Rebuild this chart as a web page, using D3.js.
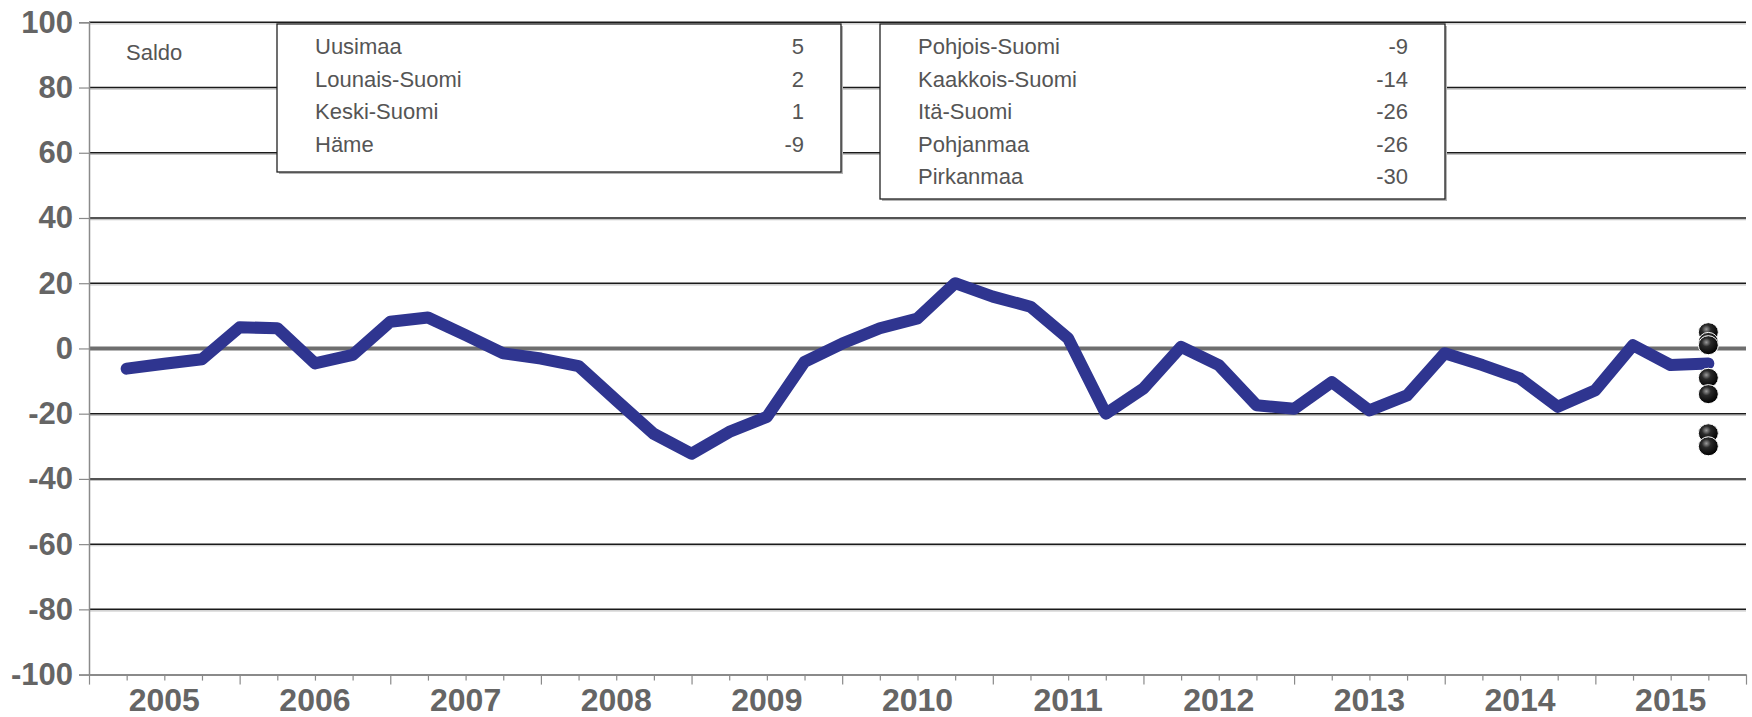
<!DOCTYPE html>
<html>
<head>
<meta charset="utf-8">
<script src="https://cdn.jsdelivr.net/npm/d3@7/dist/d3.min.js"></script>
<style>
  html, body { margin: 0; padding: 0; background: #fff; }
  svg { display: block; font-family: "Liberation Sans", Arial, sans-serif; }
</style>
</head>
<body>
<svg id="chart" width="1752" height="717"></svg>
<script>
// ---- data ----
const years = [2005, 2006, 2007, 2008, 2009, 2010, 2011, 2012, 2013, 2014, 2015];
const quarters = [
  "2005Q1","2005Q2","2005Q3","2005Q4",
  "2006Q1","2006Q2","2006Q3","2006Q4",
  "2007Q1","2007Q2","2007Q3","2007Q4",
  "2008Q1","2008Q2","2008Q3","2008Q4",
  "2009Q1","2009Q2","2009Q3","2009Q4",
  "2010Q1","2010Q2","2010Q3","2010Q4",
  "2011Q1","2011Q2","2011Q3","2011Q4",
  "2012Q1","2012Q2","2012Q3","2012Q4",
  "2013Q1","2013Q2","2013Q3","2013Q4",
  "2014Q1","2014Q2","2014Q3","2014Q4",
  "2015Q1","2015Q2","2015Q3"
];
const saldo = [
  -6.2, -4.7, -3.3, 6.5,
  6.2, -4.6, -2.0, 8.2,
  9.5, 4.1, -1.5, -3.1,
  -5.4, -15.9, -26.2, -32.3,
  -25.6, -21.0, -4.1, 1.5,
  6.2, 9.2, 20.0, 15.9,
  12.8, 3.1, -20.0, -12.3,
  0.5, -5.1, -17.4, -18.5,
  -10.3, -19.0, -14.4, -1.5,
  -5.1, -9.2, -17.9, -12.8,
  1.0, -5.1, -4.6
];
const regionsLeft = ["Uusimaa", "Lounais-Suomi", "Keski-Suomi", "Häme"];
const valuesLeft = [5, 2, 1, -9];
const regionsRight = ["Pohjois-Suomi", "Kaakkois-Suomi", "Itä-Suomi", "Pohjanmaa", "Pirkanmaa"];
const valuesRight = [-9, -14, -26, -26, -30];
const yTicks = [-100, -80, -60, -40, -20, 0, 20, 40, 60, 80, 100];
const unitLabel = "Saldo";

// ---- layout ----
const svg = d3.select("#chart");
const plotLeft = 89, plotRight = 1746, plotTop = 22.3, plotBottom = 674.6;

const x = d3.scaleLinear().domain([2005, 2016]).range([plotLeft, plotRight]);
const y = d3.scaleLinear().domain([-100, 100]).range([plotBottom, plotTop]);

// quarter position: year + q/4 (point sits at the end of its quarter tick)
const qPos = q => {
  const yr = +q.slice(0, 4), n = +q.slice(5);
  return yr + n / 4;
};

const yLabelFont = "bold 31px 'Liberation Sans', Arial, sans-serif";
const xLabelFont = "bold 32px 'Liberation Sans', Arial, sans-serif";
const axisGray = "#656565";

// ---- gridlines ----
const grid = svg.append("g");
yTicks.filter(v => v !== 0 && v !== -100).forEach(v => {
  grid.append("line")
    .attr("x1", plotLeft).attr("x2", plotRight)
    .attr("y1", y(v) + 1.6).attr("y2", y(v) + 1.6)
    .attr("stroke", "#c4c4c4").attr("stroke-width", 1.2);
  grid.append("line")
    .attr("x1", plotLeft).attr("x2", plotRight)
    .attr("y1", y(v)).attr("y2", y(v))
    .attr("stroke", "#1a1a1a").attr("stroke-width", 1.5);
});
// zero line
grid.append("line")
  .attr("x1", plotLeft).attr("x2", plotRight)
  .attr("y1", y(0)).attr("y2", y(0))
  .attr("stroke", "#6e6e6e").attr("stroke-width", 4);

// ---- y axis ----
const yAxis = svg.append("g")
  .attr("transform", `translate(${plotLeft},0)`)
  .call(d3.axisLeft(y).tickValues(yTicks).tickSize(10).tickPadding(6).tickFormat(d3.format("d")));
yAxis.select(".domain").attr("stroke", "#8a8a8a").attr("stroke-width", 1.5);
yAxis.selectAll(".tick line").attr("stroke", "#8a8a8a").attr("stroke-width", 1.2);
yAxis.selectAll(".tick text")
  .style("font", yLabelFont).attr("fill", axisGray)
  .text(d => d < 0 ? "-" + Math.abs(d) : d);

// ---- x axis ----
const quarterTicks = d3.range(2005, 2016, 0.25).filter(t => t % 1 !== 0);
const xAxisMinor = svg.append("g")
  .attr("transform", `translate(0,${plotBottom})`)
  .call(d3.axisBottom(x).tickValues(quarterTicks).tickSize(6).tickFormat(""));
xAxisMinor.select(".domain").remove();
xAxisMinor.selectAll(".tick line").attr("stroke", "#8a8a8a").attr("stroke-width", 1.2);

const xAxisMajor = svg.append("g")
  .attr("transform", `translate(0,${plotBottom})`)
  .call(d3.axisBottom(x).tickValues(years.concat([2016])).tickSize(10).tickSizeOuter(0).tickFormat(""));
xAxisMajor.select(".domain").attr("stroke", "#8a8a8a").attr("stroke-width", 2);
xAxisMajor.selectAll(".tick line").attr("stroke", "#8a8a8a").attr("stroke-width", 1.2);

svg.append("g").selectAll("text")
  .data(years).join("text")
  .attr("x", d => x(d + 0.5))
  .attr("y", plotBottom + 36.5)
  .attr("text-anchor", "middle")
  .style("font", xLabelFont)
  .attr("fill", axisGray)
  .text(d => d);

// ---- legend boxes ----
function legendBox(x0, y0, w, h, names, vals, valRight) {
  const g = svg.append("g");
  g.append("rect").attr("x", x0 + 2).attr("y", y0 + 2).attr("width", w).attr("height", h)
    .attr("fill", "#b5b5b5");
  g.append("rect").attr("x", x0).attr("y", y0).attr("width", w).attr("height", h)
    .attr("fill", "#fff").attr("stroke", "#222").attr("stroke-width", 1.3);
  names.forEach((n, i) => {
    g.append("text").attr("x", x0 + 38).attr("y", y0 + 30 + i * 32.5)
      .style("font", "22px 'Liberation Sans', Arial, sans-serif").attr("fill", "#555")
      .text(n);
    g.append("text").attr("x", valRight).attr("y", y0 + 30 + i * 32.5)
      .attr("text-anchor", "end")
      .style("font", "22px 'Liberation Sans', Arial, sans-serif").attr("fill", "#555")
      .text(vals[i]);
  });
}
legendBox(277, 24, 564, 148, regionsLeft, valuesLeft, 804);
legendBox(880, 24, 565, 175, regionsRight, valuesRight, 1408);

svg.append("text").attr("x", 126).attr("y", 60)
  .style("font", "22px 'Liberation Sans', Arial, sans-serif").attr("fill", "#555")
  .text(unitLabel);

// ---- line ----
const line = d3.line()
  .x((d, i) => x(qPos(quarters[i])))
  .y(d => y(d));
svg.append("path")
  .datum(saldo)
  .attr("d", line)
  .attr("fill", "none")
  .attr("stroke", "#2f3590")
  .attr("stroke-width", 12)
  .attr("stroke-linejoin", "round")
  .attr("stroke-linecap", "round");

// ---- regional dots at last quarter ----
const defs = svg.append("defs");
const grad = defs.append("radialGradient").attr("id", "ball")
  .attr("cx", "40%").attr("cy", "35%").attr("r", "65%");
grad.append("stop").attr("offset", "0%").attr("stop-color", "#9a9a9a");
grad.append("stop").attr("offset", "35%").attr("stop-color", "#2a2a2a");
grad.append("stop").attr("offset", "100%").attr("stop-color", "#000");

const allVals = valuesLeft.concat(valuesRight).slice().sort((a, b) => b - a);
const lastQ = quarters[quarters.length - 1];
svg.append("g").selectAll("ellipse")
  .data(allVals).join("ellipse")
  .attr("cx", x(qPos(lastQ)))
  .attr("cy", d => y(d))
  .attr("rx", 10).attr("ry", 9.5)
  .attr("fill", "url(#ball)")
  .attr("stroke", "#fff").attr("stroke-width", 1);
</script>
</body>
</html>
